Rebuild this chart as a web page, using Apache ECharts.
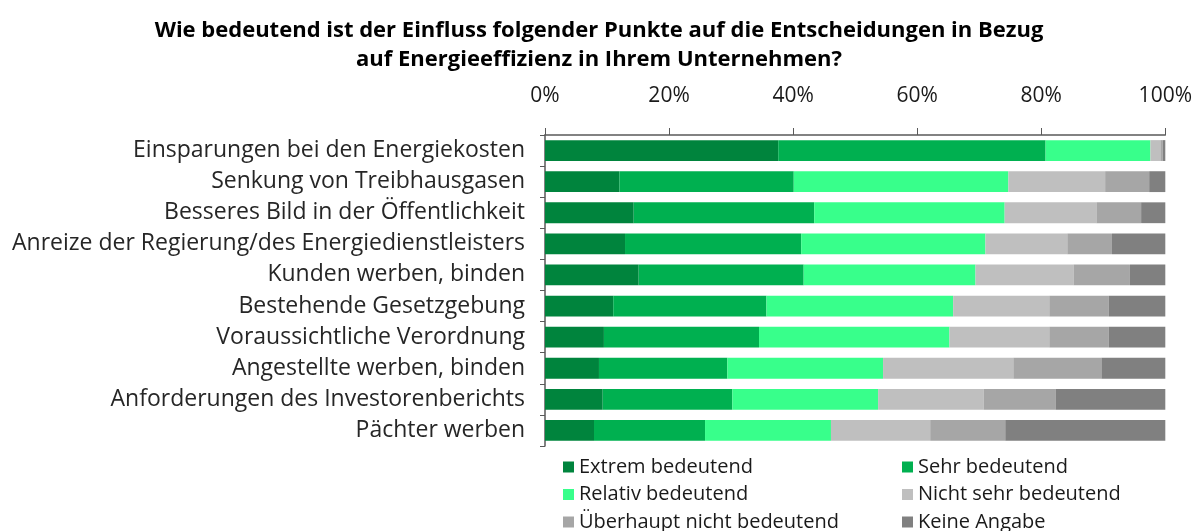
<!DOCTYPE html>
<html>
<head>
<meta charset="utf-8">
<script src="https://cdn.jsdelivr.net/npm/echarts@6/dist/echarts.min.js"></script>
<style>
  html, body { margin: 0; padding: 0; background: #fff; }
  #chart { width: 1195px; height: 531px; }
</style>
</head>
<body>
<div id="chart"></div>
<script>
var categories = [
  'Einsparungen bei den Energiekosten',
  'Senkung von Treibhausgasen',
  'Besseres Bild in der Öffentlichkeit',
  'Anreize der Regierung/des Energiedienstleisters',
  'Kunden werben, binden',
  'Bestehende Gesetzgebung',
  'Voraussichtliche Verordnung',
  'Angestellte werben, binden',
  'Anforderungen des Investorenberichts',
  'Pächter werben'
];

var extrem = [37.6, 12.0, 14.3, 12.9, 15.1, 11.0, 9.5, 8.7, 9.3, 7.9];
var sehr = [43.1, 28.1, 29.1, 28.4, 26.6, 24.7, 25.0, 20.7, 20.9, 17.9];
var relativ = [16.9, 34.6, 30.7, 29.7, 27.7, 30.1, 30.7, 25.1, 23.5, 20.3];
var nichtSehr = [1.6, 15.6, 14.8, 13.2, 15.8, 15.5, 16.1, 21.0, 17.0, 16.0];
var ueberhaupt = [0.4, 7.1, 7.2, 7.2, 9.1, 9.6, 9.6, 14.2, 11.6, 12.1];
var keine = [0.4, 2.6, 3.9, 8.6, 5.7, 9.1, 9.1, 10.3, 17.7, 25.8];

var seriesNames = ['Extrem bedeutend', 'Sehr bedeutend', 'Relativ bedeutend',
  'Nicht sehr bedeutend', 'Überhaupt nicht bedeutend', 'Keine Angabe'];
var seriesData = [extrem, sehr, relativ, nichtSehr, ueberhaupt, keine];
var colors = ['#00843d', '#00b050', '#38ff8b', '#bfbfbf', '#a6a6a6', '#808080'];

var font = "'Open Sans', 'Noto Sans', sans-serif";

var chart = echarts.init(document.getElementById('chart'));

var series = [];
var legends = [];
for (var i = 0; i < seriesNames.length; i++) {
  series.push({
    name: seriesNames[i],
    type: 'bar',
    stack: 'total',
    barCategoryGap: '33%',
    data: seriesData[i],
    itemStyle: { color: colors[i] }
  });
  // 2 Spalten, 3 Zeilen
  legends.push({
    orient: 'horizontal',
    left: i % 2 === 0 ? 563 : 902,
    top: 457 + Math.floor(i / 2) * 27.5,
    padding: 0,
    itemWidth: 11,
    itemHeight: 11,
    icon: 'rect',
    data: [seriesNames[i]],
    textStyle: { fontFamily: font, fontSize: 20, color: '#1a1a1a' }
  });
}

var option = {
  animation: false,
  color: colors,
  title: {
    text: 'Wie bedeutend ist der Einfluss folgender Punkte auf die Entscheidungen in Bezug\nauf Energieeffizienz in Ihrem Unternehmen?',
    left: 594,
    top: 11,
    textAlign: 'center',
    textStyle: {
      fontFamily: font,
      fontWeight: 'bold',
      fontSize: 22,
      lineHeight: 29,
      color: '#000'
    }
  },
  legend: legends,
  grid: {
    left: 545,
    right: 29,
    top: 135,
    bottom: 85,
    containLabel: false
  },
  xAxis: {
    type: 'value',
    position: 'top',
    min: 0,
    max: 100,
    interval: 20,
    axisLine: { show: true, lineStyle: { color: '#595959', width: 1.5 } },
    axisTick: { show: true, length: 7, lineStyle: { color: '#595959' } },
    splitLine: { show: false },
    axisLabel: {
      formatter: '{value}%',
      margin: 28,
      fontFamily: font,
      fontSize: 21,
      color: '#1a1a1a'
    }
  },
  yAxis: {
    type: 'category',
    inverse: true,
    data: categories,
    axisLine: { show: true, lineStyle: { color: '#595959', width: 1.5 } },
    axisTick: { show: true, length: 5, lineStyle: { color: '#595959' } },
    axisLabel: {
      margin: 20,
      fontFamily: font,
      fontSize: 23,
      color: '#262626'
    }
  },
  series: series
};

chart.setOption(option);
</script>
</body>
</html>
